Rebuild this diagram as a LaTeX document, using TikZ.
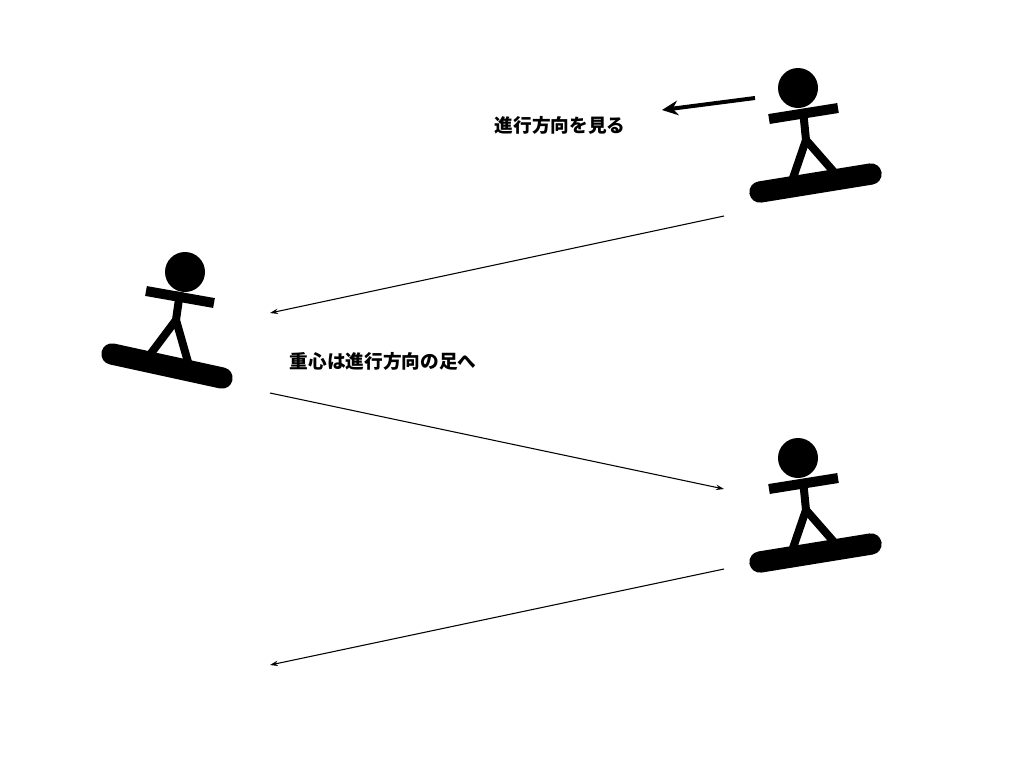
\documentclass[tikz,border=0pt]{standalone}
\usepackage{fontspec}
\usepackage{tikz}
\usetikzlibrary{arrows.meta}
\newfontfamily\cjk{Noto Sans CJK JP}
\tikzset{
  limb/.style={line width=7.5pt},
  leg/.style={line width=6pt},
  board/.style={line width=16pt, line cap=round},
  run/.style={line width=0.8pt, -{Stealth[length=6pt,width=4pt]}},
  caption/.style={font=\cjk\bfseries\fontsize{14pt}{16pt}\selectfont}
}
\begin{document}
\begin{tikzpicture}[x=0.75pt, y=-0.75pt]
  \useasboundingbox (0,0) rectangle (1024,768);

  % rider facing left (top right)
  \fill (798,88) circle (20);
  \draw[limb] (769,119) -- (838,108);
  \draw[leg] (803,110) -- (806,140);
  \draw[leg] (806,140) -- (793,178);
  \draw[leg] (806,140) -- (834,172);
  \draw[board] (760,192) -- (871,174);

  % rider on the left
  \fill (185,272) circle (20);
  \draw[limb] (146,291) -- (214,303);
  \draw[leg] (180,292) -- (176,320);
  \draw[leg] (176,320) -- (149,356);
  \draw[leg] (176,320) -- (188,362);
  \draw[board] (112,354) -- (222,378);

  % rider facing left (bottom right)
  \begin{scope}[yshift=-277.5pt]
    \fill (798,88) circle (20);
    \draw[limb] (769,119) -- (838,108);
    \draw[leg] (803,110) -- (806,140);
    \draw[leg] (806,140) -- (793,178);
    \draw[leg] (806,140) -- (834,172);
    \draw[board] (760,192) -- (871,174);
  \end{scope}

  \coordinate (p1) at (724,216);
  \coordinate (p2) at (270,313);
  \coordinate (p3) at (270,393);
  \coordinate (p4) at (724,489);
  \coordinate (p5) at (724,569);
  \coordinate (p6) at (270,665);
  \coordinate (look0) at (755,98);
  \coordinate (look1) at (662,110);

  \draw[run] (p1) -- (p2);
  \draw[run] (p3) -- (p4);
  \draw[run] (p5) -- (p6);
  \draw[line width=3pt, -{Stealth[length=12pt,width=11pt]}] (look0) -- (look1);

  \node[caption] (look) at (560,125) {進行方向を見る};
  \node[caption] (weight) at (383,361) {重心は進行方向の足へ};
\end{tikzpicture}
\end{document}
